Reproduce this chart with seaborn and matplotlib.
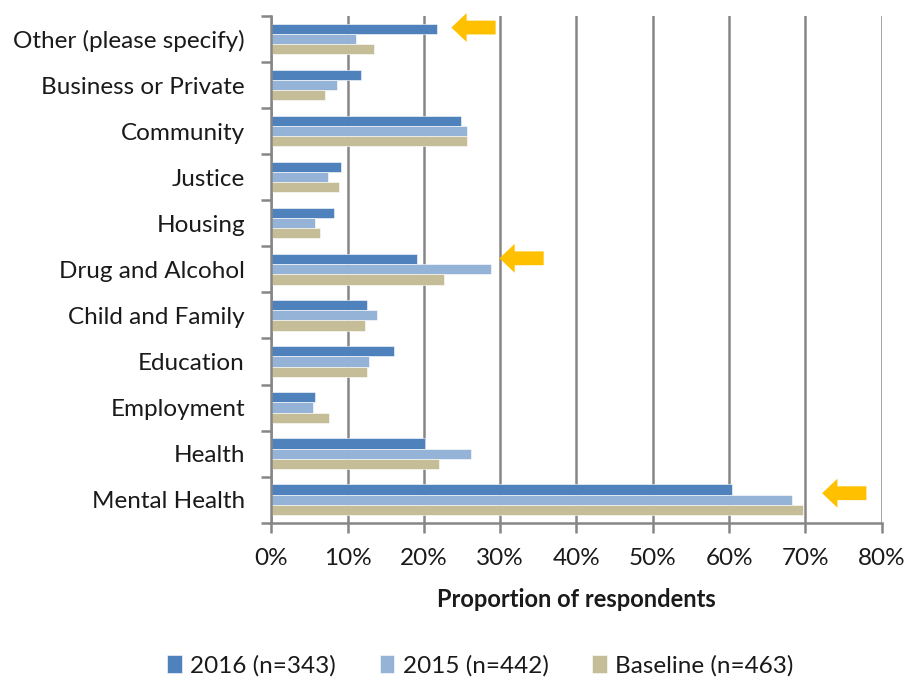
import matplotlib
matplotlib.use("Agg")
import matplotlib.pyplot as plt
from matplotlib.ticker import FuncFormatter, FixedLocator
from matplotlib.patches import FancyArrow
import seaborn as sns
import pandas as pd

categories = [
    "Other (please specify)", "Business or Private", "Community", "Justice",
    "Housing", "Drug and Alcohol", "Child and Family", "Education",
    "Employment", "Health", "Mental Health",
]
series_names = ["2016 (n=343)", "2015 (n=442)", "Baseline (n=463)"]
values_2016 = [21.7, 11.8, 24.9, 9.1, 8.2, 19.1, 12.6, 16.1, 5.7, 20.1, 60.4]
values_2015 = [11.1, 8.6, 25.7, 7.4, 5.7, 28.8, 13.9, 12.8, 5.4, 26.2, 68.2]
values_base = [13.5, 7.1, 25.6, 8.9, 6.4, 22.7, 12.3, 12.5, 7.6, 22.0, 69.7]
colors = ["#4F81BD", "#95B3D7", "#C4BD97"]

# categories flagged with a highlight arrow
flagged = ["Other (please specify)", "Drug and Alcohol", "Mental Health"]

rows = []
for name, vals in zip(series_names, [values_2016, values_2015, values_base]):
    for cat, v in zip(categories, vals):
        rows.append({"category": cat, "series": name, "value": v})
df = pd.DataFrame(rows)

sns.set_style("white")
plt.rcParams["font.family"] = ["Lato", "DejaVu Sans"]

fig = plt.figure(figsize=(9.08, 6.82), dpi=100)
ax = fig.add_axes([0.2988, 0.2336, 0.6722, 0.7429])

sns.barplot(
    data=df, y="category", x="value", hue="series", order=categories,
    hue_order=series_names, palette=colors, orient="h", width=0.66,
    saturation=1, edgecolor="white", linewidth=0.4, ax=ax, legend=True,
)

ax.set_xlim(0, 80)
ax.set_ylim(len(categories) - 0.5, -0.5)
grid_c = "#868686"
text_c = "#1a1a1a"
ax.set_xticks(range(0, 81, 10))
ax.xaxis.set_major_formatter(FuncFormatter(lambda v, p: f"{v:.0f}%"))
ax.xaxis.grid(True, color=grid_c, linewidth=1.8)
ax.set_axisbelow(True)

# category labels in the middle, tick marks on the boundaries
ax.set_yticks(range(len(categories)))
ax.set_yticklabels(categories)
ax.yaxis.set_minor_locator(FixedLocator([i - 0.5 for i in range(len(categories) + 1)]))
ax.tick_params(axis="y", which="major", length=0, pad=19, labelsize=17.5, labelcolor=text_c)
ax.tick_params(axis="y", which="minor", length=7, width=1.8, color=grid_c, left=True)
ax.tick_params(axis="x", which="major", length=7, width=1.8, color=grid_c,
               bottom=True, labelsize=17.5, labelcolor=text_c, pad=11)

for side in ["top", "right"]:
    ax.spines[side].set_visible(False)
for side in ["left", "bottom"]:
    ax.spines[side].set_color(grid_c)
    ax.spines[side].set_linewidth(1.8)

ax.set_ylabel("")
ax.set_xlabel("Proportion of respondents", fontsize=17, fontweight="bold",
              labelpad=14, color=text_c)

# highlight arrows pointing at the flagged categories
arrow_spec = {"Other (please specify)": (29.4, -0.25),
              "Drug and Alcohol": (35.7, -0.24),
              "Mental Health": (78.0, -0.14)}
for cat in flagged:
    x_tail, dy = arrow_spec[cat]
    yi = categories.index(cat) + dy
    ax.add_patch(FancyArrow(x_tail, yi, -5.8, 0, width=0.3, head_width=0.63,
                            head_length=2.0, length_includes_head=True,
                            color="#FFC000", linewidth=0, zorder=5, clip_on=False))

handles, labels = ax.get_legend_handles_labels()
ax.get_legend().remove()
fig.legend(handles, labels, loc="center", bbox_to_anchor=(0.529, 0.024),
           ncol=3, frameon=False, fontsize=17.5, handlelength=0.6, handleheight=0.75,
           handletextpad=0.35, columnspacing=1.8, labelcolor=text_c)

fig.savefig("out.png", dpi=100, facecolor="white")
